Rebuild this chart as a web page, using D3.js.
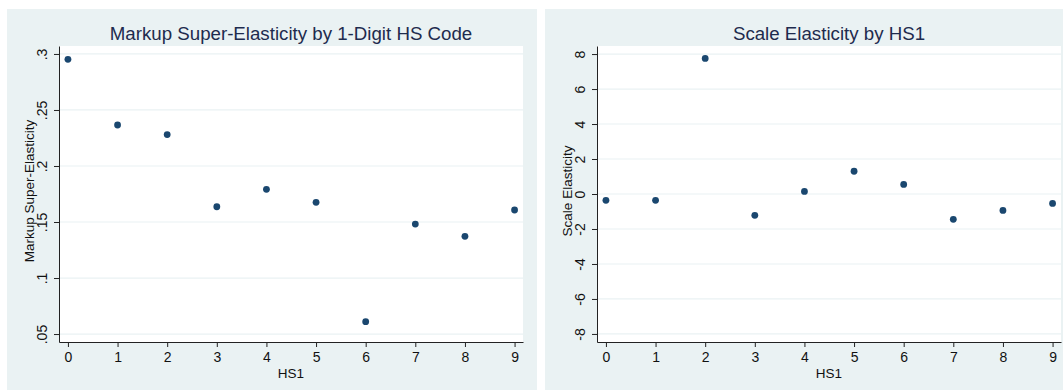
<!DOCTYPE html>
<html>
<head>
<meta charset="utf-8">
<script src="https://cdn.jsdelivr.net/npm/d3@7.9.0/dist/d3.min.js"></script>
<style>
  body { margin: 0; background: #fff; }
  svg { display: block; font-family: "Liberation Sans", Arial, Helvetica, sans-serif; }
</style>
</head>
<body>
<svg id="chart" width="1063" height="390"></svg>
<script>
// HS1 codes on the x axis
const hsCodes = [0, 1, 2, 3, 4, 5, 6, 7, 8, 9];

// left panel: markup super-elasticity
const markupValues = [0.2952, 0.2366, 0.2280, 0.1636, 0.1792, 0.1676, 0.0610, 0.1482, 0.1372, 0.1607];
const markupTicks = [0.05, 0.1, 0.15, 0.2, 0.25, 0.3];

// right panel: scale elasticity
const scaleValues = [-0.36, -0.36, 7.75, -1.22, 0.15, 1.30, 0.55, -1.45, -0.94, -0.54];
const scaleTicks = [-8, -6, -4, -2, 0, 2, 4, 6, 8];

const bg = '#eaf2f3';
const navy = '#1a476f';
const svg = d3.select('#chart');

function drawPanel(opts) {
    const g = svg.append('g');

    // panel background
    g.append('rect')
        .attr('x', opts.box[0]).attr('y', opts.box[1])
        .attr('width', opts.box[2]).attr('height', opts.box[3])
        .attr('fill', bg);

    const x = d3.scaleLinear().domain([-0.18, 9.17]).range([opts.left, opts.right]);
    const y = d3.scaleLinear().domain(opts.yDomain).range([opts.bottom, opts.top]);

    // plot region
    g.append('rect')
        .attr('x', opts.left).attr('y', opts.top)
        .attr('width', opts.right - opts.left).attr('height', opts.bottom - opts.top)
        .attr('fill', '#fff');

    // grid lines
    g.selectAll('line.grid')
        .data(opts.ticks)
        .join('line')
        .attr('class', 'grid')
        .attr('x1', opts.left).attr('x2', opts.right)
        .attr('y1', d => y(d)).attr('y2', d => y(d))
        .attr('stroke', bg).attr('stroke-width', 1.2);

    // x axis
    const xAxis = g.append('g')
        .attr('transform', `translate(0,${opts.bottom})`)
        .call(d3.axisBottom(x).tickValues(hsCodes).tickFormat(d => String(d)).tickSize(5).tickSizeOuter(0));
    xAxis.select('.domain').attr('stroke', '#222');
    xAxis.selectAll('.tick line').attr('stroke', '#222');
    xAxis.selectAll('.tick text')
        .attr('font-size', 14).attr('fill', '#111').attr('y', 9).attr('dy', '0.8em');

    // y axis, labels turned on their side
    const yAxis = g.append('g')
        .attr('transform', `translate(${opts.left},0)`)
        .call(d3.axisLeft(y).tickValues(opts.ticks).tickFormat(opts.fmt).tickSize(5).tickSizeOuter(0));
    yAxis.select('.domain').attr('stroke', '#222');
    yAxis.selectAll('.tick line').attr('stroke', '#222');
    yAxis.selectAll('.tick text')
        .attr('font-size', 14).attr('fill', '#111')
        .attr('x', null).attr('dy', null)
        .attr('text-anchor', 'middle')
        .attr('transform', 'translate(-12,0) rotate(-90)');

    // points
    g.selectAll('circle.pt')
        .data(opts.values)
        .join('circle')
        .attr('class', 'pt')
        .attr('cx', (d, i) => x(hsCodes[i]))
        .attr('cy', d => y(d))
        .attr('r', 3.4)
        .attr('fill', navy);

    // titles
    g.append('text')
        .attr('x', (opts.left + opts.right) / 2).attr('y', 40)
        .attr('text-anchor', 'middle')
        .attr('font-size', 18.7).attr('fill', '#1e2b4e')
        .text(opts.title);

    g.append('text')
        .attr('x', (opts.left + opts.right) / 2).attr('y', 378)
        .attr('text-anchor', 'middle')
        .attr('font-size', 13.5).attr('fill', '#111')
        .text('HS1');

    g.append('text')
        .attr('transform', `translate(${opts.left - 25},${(opts.top + opts.bottom) / 2 - 3}) rotate(-90)`)
        .attr('text-anchor', 'middle')
        .attr('font-size', 13.5).attr('fill', '#111')
        .text(opts.yLabel);
}

const stripZero = d => d3.format('.2~f')(d).replace(/^0\./, '.');

drawPanel({
    box: [7, 9, 530, 381],
    left: 59, right: 523, top: 46, bottom: 342,
    yDomain: [0.0429, 0.3071],
    ticks: markupTicks,
    fmt: stripZero,
    values: markupValues,
    title: 'Markup Super-Elasticity by 1-Digit HS Code',
    yLabel: 'Markup Super-Elasticity'
});

drawPanel({
    box: [545, 9, 518, 381],
    left: 597, right: 1061, top: 46, bottom: 342,
    yDomain: [-8.46, 8.46],
    ticks: scaleTicks,
    fmt: d => String(d),
    values: scaleValues,
    title: 'Scale Elasticity by HS1',
    yLabel: 'Scale Elasticity'
});
</script>
</body>
</html>
